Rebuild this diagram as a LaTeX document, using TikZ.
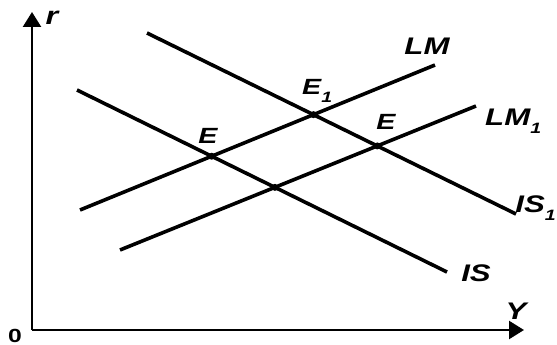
\documentclass[tikz,border=0pt]{standalone}
\usepackage{graphicx}
\usepackage{fontspec}
\setmainfont{Liberation Sans}
\usetikzlibrary{arrows.meta}
\newcommand{\mysub}[1]{\raisebox{-0.35em}{\fontsize{15pt}{15pt}\selectfont #1}}
\newcommand{\wide}[1]{\scalebox{1.3}[1]{#1}}
\begin{document}
\begin{tikzpicture}[x=1pt,y=-1pt,
  curve/.style={line width=3.6pt},
  axis/.style={line width=2.4pt,-{Triangle[length=15pt,width=18pt]}},
  lbl/.style={font=\fontsize{24pt}{24pt}\selectfont\bfseries\itshape, inner sep=0pt},
  dot/.style={circle,fill=black,inner sep=0pt,minimum size=7pt}]
\useasboundingbox (0,0) rectangle (557,345);
% axes
\coordinate (O) at (32,330);
\coordinate (ytop) at (32,12);
\coordinate (xend) at (524,330);
\draw[axis] (O) -- (ytop);
\draw[axis] (O) -- (xend);
\node[lbl, font=\fontsize{19pt}{19pt}\selectfont\bfseries\upshape] (zero) at (15,336) {\wide{0}};
\node[lbl, font=\fontsize{25pt}{25pt}\selectfont\bfseries\itshape] (r) at (52,18) {\wide{r}};
\node[lbl] (Y) at (516,311) {\wide{Y}};
% curves
\coordinate (is1a) at (147,33);
\coordinate (is1b) at (516,214);
\coordinate (isa) at (77,90);
\coordinate (isb) at (447,272);
\coordinate (lma) at (80,210);
\coordinate (lmb) at (435,65);
\coordinate (lm1a) at (120,250);
\coordinate (lm1b) at (476,106);
\draw[curve] (is1a) -- (is1b);
\draw[curve] (isa) -- (isb);
\draw[curve] (lma) -- (lmb);
\draw[curve] (lm1a) -- (lm1b);
% intersections
\coordinate (E0) at (intersection of isa--isb and lma--lmb);
\coordinate (E1) at (intersection of is1a--is1b and lma--lmb);
\coordinate (E2) at (intersection of is1a--is1b and lm1a--lm1b);
\coordinate (E3) at (intersection of isa--isb and lm1a--lm1b);
\node[dot] (d0) at (E0) {};
\node[dot] (d1) at (E1) {};
\node[dot] (d2) at (E2) {};
\node[dot] (d3) at (E3) {};
% labels
\node[lbl, font=\fontsize{22pt}{22pt}\selectfont\bfseries\itshape] (lE0) at (208,136) {\wide{E}};
\node[lbl, font=\fontsize{22pt}{22pt}\selectfont\bfseries\itshape, anchor=base west] (lE1) at (302,95) {\wide{E\mysub{1}}};
\node[lbl, font=\fontsize{22pt}{22pt}\selectfont\bfseries\itshape] (lE2) at (386,122) {\wide{E}};
\node[lbl] (lLM) at (427,46) {\wide{LM}};
\node[lbl, anchor=base west] (lLM1) at (485,125) {\wide{LM\mysub{1}}};
\node[lbl, anchor=base east] (lIS1) at (556,212) {\wide{IS\mysub{1}}};
\node[lbl] (lIS) at (476,273) {\wide{IS}};
\end{tikzpicture}
\end{document}
